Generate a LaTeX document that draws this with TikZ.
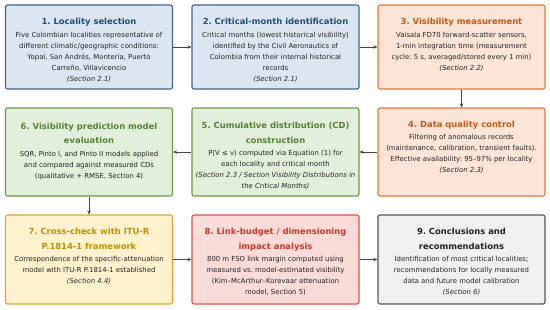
\documentclass[tikz,border=0pt]{standalone}
\usepackage{fontspec}
\setmainfont{DejaVu Sans}
\usetikzlibrary{arrows.meta}
\frenchspacing
\definecolor{bfill}{HTML}{DCE6F2}\definecolor{bdraw}{HTML}{41648C}\definecolor{btitle}{HTML}{1F4E79}
\definecolor{ofill}{HTML}{FCE4D6}\definecolor{odraw}{HTML}{E07B39}\definecolor{otitle}{HTML}{C55A11}
\definecolor{gfill}{HTML}{E2EFDA}\definecolor{gdraw}{HTML}{6A9A45}\definecolor{gtitle}{HTML}{548235}
\definecolor{yfill}{HTML}{FFF2CC}\definecolor{ydraw}{HTML}{D4A72C}\definecolor{ytitle}{HTML}{BF9000}
\definecolor{rfill}{HTML}{FADBD8}\definecolor{rdraw}{HTML}{D9534F}\definecolor{rtitle}{HTML}{C0392B}
\definecolor{kfill}{HTML}{F0F0F0}\definecolor{kdraw}{HTML}{555555}\definecolor{ktitle}{HTML}{222222}
\definecolor{bodytext}{HTML}{222222}
\definecolor{arrowcol}{HTML}{444444}
\newcommand{\ttl}[2]{{\fontsize{8.4}{14.5}\selectfont\bfseries\color{#1}#2\par}\vspace{1.5pt}}
\newcommand{\bdy}{\fontsize{6.9}{11}\selectfont\color{bodytext}}
\begin{document}
\begin{tikzpicture}[x=1pt,y=1pt,
  flowbox/.style={draw, line width=1.1pt, rounded corners=2pt, minimum width=167pt, inner sep=0pt},
  boxtext/.style={anchor=north, text width=166pt, align=flush center, inner sep=0pt},
  flowarrow/.style={draw=arrowcol, line width=0.8pt, -{Stealth[length=4pt,width=3.5pt]}}]
\useasboundingbox (0,0) rectangle (550,-309);
\fill[white] (0,0) rectangle (550,-309);
% row 1
\node[flowbox, fill=bfill, draw=bdraw, minimum height=84pt] (b1) at (89,-47) {};
\node[flowbox, fill=bfill, draw=bdraw, minimum height=84pt] (b2) at (275.5,-47) {};
\node[flowbox, fill=ofill, draw=odraw, minimum height=84pt] (b3) at (461.5,-47) {};
% row 2
\node[flowbox, fill=gfill, draw=gdraw, minimum height=88pt] (b6) at (89,-152) {};
\node[flowbox, fill=gfill, draw=gdraw, minimum height=88pt] (b5) at (275.5,-152) {};
\node[flowbox, fill=ofill, draw=odraw, minimum height=88pt] (b4) at (461.5,-152) {};
% row 3
\node[flowbox, fill=yfill, draw=ydraw, minimum height=89pt] (b7) at (89,-259.5) {};
\node[flowbox, fill=rfill, draw=rdraw, minimum height=89pt] (b8) at (275.5,-259.5) {};
\node[flowbox, fill=kfill, draw=kdraw, minimum height=89pt] (b9) at (461.5,-259.5) {};
% texts
\node[boxtext] (t1) at ([yshift=-13.5pt]b1.north) {\ttl{btitle}{1. Locality selection}
 \bdy Five Colombian localities representative of\\ different climatic/geographic conditions:\\ Yopal, San Andrés, Montería, Puerto\\ Carreño, Villavicencio\\ \itshape(Section 2.1)\par};
\node[boxtext] (t2) at ([yshift=-13.5pt]b2.north) {\ttl{btitle}{2. Critical-month identification}
 \bdy Critical months (lowest historical visibility)\\ identified by the Civil Aeronautics of\\ Colombia from their internal historical\\ records\\ \itshape(Section 2.1)\par};
\node[boxtext] (t3) at ([yshift=-13.5pt]b3.north) {\ttl{otitle}{3. Visibility measurement}
 \bdy Vaisala FD70 forward-scatter sensors,\\ 1-min integration time (measurement\\ cycle: 5 s, averaged/stored every 1 min)\\ \itshape(Section 2.2)\par};
\node[boxtext] (t4) at ([yshift=-13pt]b4.north) {\ttl{otitle}{4. Data quality control}
 \bdy Filtering of anomalous records\\ (maintenance, calibration, transient faults).\\ Effective availability: 95–97\% per locality\\ \itshape(Section 2.3)\par};
\node[boxtext] (t5) at ([yshift=-14.5pt]b5.north) {\ttl{gtitle}{5. Cumulative distribution (CD)\\ construction}
 \bdy P(V ≤ v) computed via Equation (1) for\\ each locality and critical month\\ \itshape(Section 2.3 / Section Visibility Distributions in\\ the Critical Months)\par};
\node[boxtext] (t6) at ([yshift=-15pt]b6.north) {\ttl{gtitle}{6. Visibility prediction model\\ evaluation}
 \bdy SQR, Pinto I, and Pinto II models applied\\ and compared against measured CDs\\ (qualitative + RMSE, Section 4)\par};
\node[boxtext] (t7) at ([yshift=-13.5pt]b7.north) {\ttl{ytitle}{7. Cross-check with ITU-R\\ P.1814-1 framework}
 \bdy Correspondence of the specific-attenuation\\ model with ITU-R P.1814-1 established\\ \itshape(Section 4.4)\par};
\node[boxtext] (t8) at ([yshift=-13.5pt]b8.north) {\ttl{rtitle}{8. Link-budget / dimensioning\\ impact analysis}
 \bdy 800 m FSO link margin computed using\\ measured vs. model-estimated visibility\\ (Kim–McArthur–Korevaar attenuation\\ model, Section 5)\par};
\node[boxtext] (t9) at ([yshift=-13.5pt]b9.north) {\ttl{ktitle}{9. Conclusions and\\ recommendations}
 \bdy Identification of most critical localities;\\ recommendations for locally measured\\ data and future model calibration\\ \itshape(Section 6)\par};
% arrows
\draw[flowarrow] (b1) -- (b2);
\draw[flowarrow] (b2) -- (b3);
\draw[flowarrow] (b3) -- (b4);
\draw[flowarrow] (b4) -- (b5);
\draw[flowarrow] (b5) -- (b6);
\draw[flowarrow] (b6) -- (b7);
\draw[flowarrow] (b7) -- (b8);
\draw[flowarrow] (b8) -- (b9);
\end{tikzpicture}
\end{document}
